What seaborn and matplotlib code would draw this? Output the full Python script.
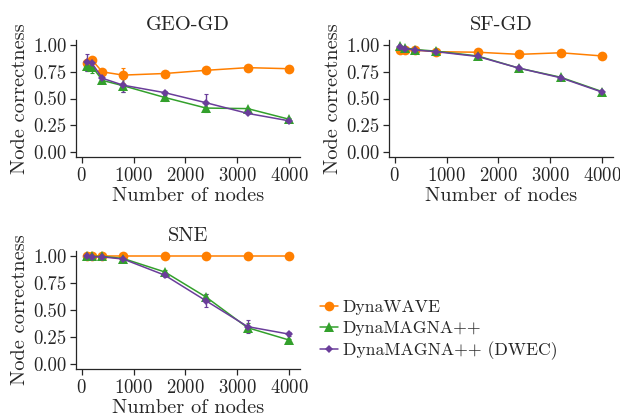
import numpy as np
import pandas as pd
import matplotlib
matplotlib.use("Agg")
import matplotlib.pyplot as plt
import seaborn as sns

nodes = [100, 200, 400, 800, 1600, 2400, 3200, 4000]
methods = ["DynaWAVE", "DynaMAGNA++", "DynaMAGNA++ (DWEC)"]
panels = ["GEO-GD", "SF-GD", "SNE"]

geo_wave = [0.83, 0.86, 0.75, 0.72, 0.735, 0.765, 0.79, 0.78]
geo_magna = [0.81, 0.80, 0.67, 0.62, 0.51, 0.41, 0.405, 0.305]
geo_dwec = [0.84, 0.83, 0.69, 0.625, 0.555, 0.46, 0.36, 0.29]
geo_wave_err = [0.04, 0.03, 0.02, 0.07, 0.01, 0.01, 0.01, 0.01]
geo_magna_err = [0.05, 0.06, 0.02, 0.06, 0.03, 0.04, 0.01, 0.01]
geo_dwec_err = [0.08, 0.06, 0.02, 0.06, 0.02, 0.08, 0.01, 0.01]

sf_wave = [0.96, 0.96, 0.955, 0.94, 0.935, 0.915, 0.93, 0.90]
sf_magna = [0.99, 0.975, 0.96, 0.945, 0.90, 0.785, 0.70, 0.565]
sf_dwec = [0.985, 0.97, 0.955, 0.94, 0.895, 0.785, 0.695, 0.56]
sf_wave_err = [0.01, 0.01, 0.01, 0.01, 0.01, 0.01, 0.01, 0.01]
sf_magna_err = [0.01, 0.01, 0.02, 0.01, 0.01, 0.01, 0.01, 0.01]
sf_dwec_err = [0.01, 0.01, 0.02, 0.01, 0.01, 0.01, 0.01, 0.01]

sne_wave = [1.0, 1.0, 1.0, 1.0, 1.0, 1.0, 1.0, 1.0]
sne_magna = [1.0, 1.0, 1.0, 0.98, 0.855, 0.62, 0.335, 0.22]
sne_dwec = [1.0, 0.995, 0.995, 0.975, 0.825, 0.585, 0.345, 0.275]
sne_wave_err = [0.0, 0.0, 0.0, 0.0, 0.0, 0.0, 0.0, 0.0]
sne_magna_err = [0.0, 0.0, 0.0, 0.01, 0.02, 0.03, 0.04, 0.01]
sne_dwec_err = [0.0, 0.0, 0.0, 0.01, 0.02, 0.06, 0.06, 0.02]

values = {
    "GEO-GD": (geo_wave, geo_magna, geo_dwec),
    "SF-GD": (sf_wave, sf_magna, sf_dwec),
    "SNE": (sne_wave, sne_magna, sne_dwec),
}
errors = {
    "GEO-GD": (geo_wave_err, geo_magna_err, geo_dwec_err),
    "SF-GD": (sf_wave_err, sf_magna_err, sf_dwec_err),
    "SNE": (sne_wave_err, sne_magna_err, sne_dwec_err),
}

colors = {"DynaWAVE": "#ff7f00", "DynaMAGNA++": "#33a02c", "DynaMAGNA++ (DWEC)": "#6a3d9a"}
markers = {"DynaWAVE": "o", "DynaMAGNA++": "^", "DynaMAGNA++ (DWEC)": "D"}
msizes = {"DynaWAVE": 7, "DynaMAGNA++": 7, "DynaMAGNA++ (DWEC)": 4.5}

sns.set_theme(style="ticks")
plt.rcParams["font.family"] = ["cmr10", "DejaVu Serif"]
plt.rcParams["axes.formatter.use_mathtext"] = True
plt.rcParams["mathtext.fontset"] = "cm"

fig = plt.figure(figsize=(6.2, 4.17), dpi=100)
W, H = 620, 417
boxes = {
    "GEO-GD": (76, 40, 300, 157),
    "SF-GD": (389, 40, 613, 157),
    "SNE": (76, 251, 300, 369),
}

rows = []
for p in panels:
    for m, vals in zip(methods, values[p]):
        for n, v in zip(nodes, vals):
            rows.append({"panel": p, "method": m, "nodes": n, "nc": v})
df = pd.DataFrame(rows)

for p in panels:
    l, t, r, b = boxes[p]
    ax = fig.add_axes([l / W, 1 - b / H, (r - l) / W, (b - t) / H])
    sub = df[df.panel == p]
    for i, m in enumerate(methods):
        d = sub[sub.method == m]
        ax.errorbar(d["nodes"], d["nc"], yerr=errors[p][i], fmt="none",
                    ecolor=colors[m], elinewidth=1.0, capsize=1.5, capthick=0.8,
                    zorder=2)
        sns.lineplot(data=d, x="nodes", y="nc", ax=ax, color=colors[m],
                     marker=markers[m], markersize=msizes[m], markeredgewidth=0,
                     linewidth=1.1, label=m, legend=False, zorder=3)
    ax.set_xlim(-110, 4210)
    ax.set_ylim(-0.05, 1.05)
    ax.set_xticks([0, 1000, 2000, 3000, 4000])
    ax.set_yticks([0.0, 0.25, 0.5, 0.75, 1.0])
    ax.set_yticklabels(["0.00", "0.25", "0.50", "0.75", "1.00"])
    ax.tick_params(labelsize=13.5, length=4, width=0.9, pad=3)
    ax.set_title(p, fontsize=14.7, pad=7)
    ax.set_xlabel("Number of nodes", fontsize=14.7, labelpad=2)
    ax.set_ylabel("Node correctness", fontsize=14.7, labelpad=3)
    for s in ax.spines.values():
        s.set_linewidth(0.9)
    sns.despine(ax=ax)
    if p == "SNE":
        handles, labels = ax.get_legend_handles_labels()

fig.legend(handles, labels, loc="upper left", bbox_to_anchor=(0.5076, 0.293),
           frameon=False, fontsize=12.7, handlelength=1.0, handletextpad=0.3,
           labelspacing=0.3, borderpad=0.3, borderaxespad=0)

fig.savefig("out.png", dpi=100)
